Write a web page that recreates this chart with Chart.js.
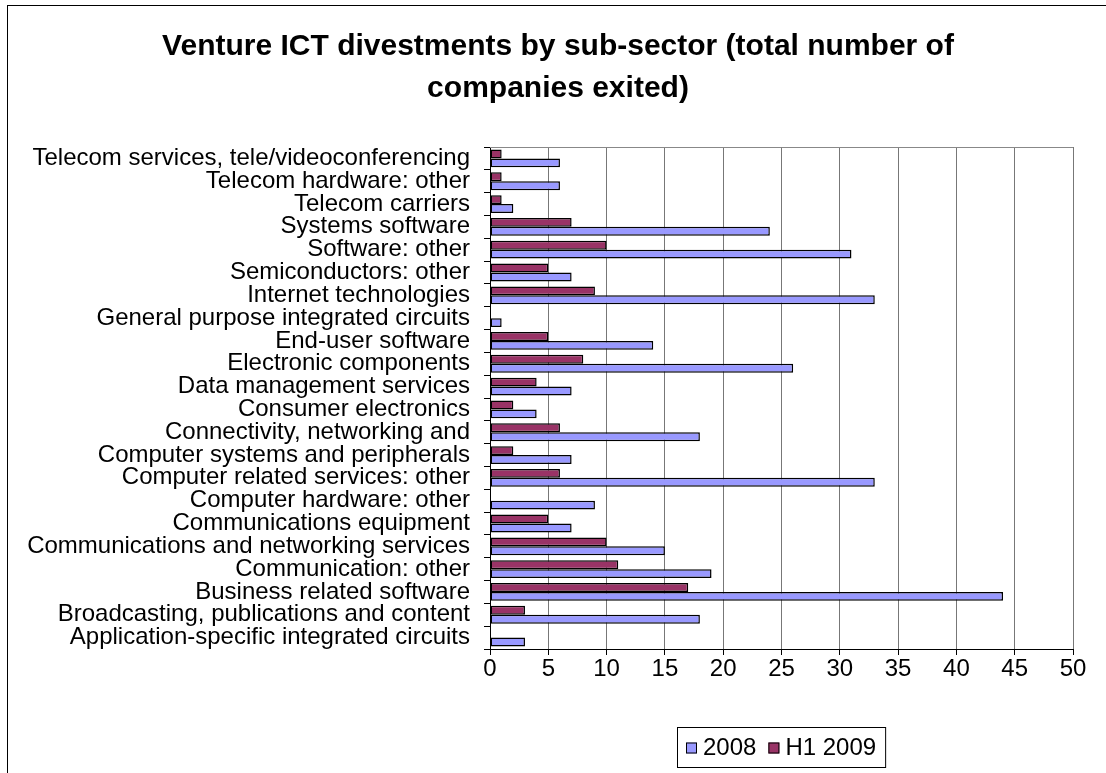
<!DOCTYPE html>
<html lang="en">
<head>
    <meta charset="UTF-8">
    <title>Venture ICT divestments by sub-sector</title>
    <script src="https://cdn.jsdelivr.net/npm/chart.js"></script>
    <style>
        body {
            margin: 0;
            background: #fff;
        }
        .chart-container {
            width: 1106px;
            height: 773px;
        }
    </style>
</head>
<body>

    <div class="chart-container">
        <canvas id="divestChart"></canvas>
    </div>

    <script>
        // Categories, top to bottom as shown
        const sectors = [
            'Telecom services, tele/videoconferencing',
            'Telecom hardware: other',
            'Telecom carriers',
            'Systems software',
            'Software: other',
            'Semiconductors: other',
            'Internet technologies',
            'General purpose integrated circuits',
            'End-user software',
            'Electronic components',
            'Data management services',
            'Consumer electronics',
            'Connectivity, networking and',
            'Computer systems and peripherals',
            'Computer related services: other',
            'Computer hardware: other',
            'Communications equipment',
            'Communications and networking services',
            'Communication: other',
            'Business related software',
            'Broadcasting, publications and content',
            'Application-specific integrated circuits'
        ];
        const values2008 = [6, 6, 2, 24, 31, 7, 33, 1, 14, 26, 7, 4, 18, 7, 33, 9, 7, 15, 19, 44, 18, 3];
        const valuesH12009 = [1, 1, 1, 7, 10, 5, 9, 0, 5, 8, 4, 2, 6, 2, 6, 0, 5, 10, 11, 17, 3, 0];
        const seriesNames = ['2008', 'H1 2009'];
        const axisMax = 50;
        const axisStep = 5;

        const FONT = '"Liberation Sans", Arial, sans-serif';

        // outer chart frame + grey plot border (top)
        const framePlugin = {
            id: 'frame',
            beforeDraw(chart) {
                const ctx = chart.ctx;
                ctx.save();
                ctx.fillStyle = '#fff';
                ctx.fillRect(0, 0, chart.width, chart.height);
                ctx.strokeStyle = '#000';
                ctx.lineWidth = 1;
                ctx.strokeRect(7.5, 5.5, chart.width + 20, chart.height + 20);
                ctx.restore();
            },
            afterDatasetsDraw(chart) {
                const a = chart.chartArea;
                const ctx = chart.ctx;
                ctx.save();
                ctx.strokeStyle = '#888';
                ctx.lineWidth = 1;
                ctx.beginPath();
                ctx.moveTo(a.left, Math.round(a.top) + 0.5);
                ctx.lineTo(a.right, Math.round(a.top) + 0.5);
                ctx.stroke();
                ctx.restore();
            }
        };

        // Excel-style boxed legend centred under the plot area
        const boxLegend = {
            id: 'boxLegend',
            afterDraw(chart) {
                const ctx = chart.ctx;
                const a = chart.chartArea;
                const items = chart.data.datasets.slice().reverse();
                ctx.save();
                ctx.font = '24px ' + FONT;
                const sw = 11, gap = 6, itemGap = 12, padX = 9;
                let total = padX * 2;
                items.forEach((d, i) => {
                    total += sw + gap + ctx.measureText(d.label).width;
                    if (i < items.length - 1) total += itemGap;
                });
                const cx = (a.left + a.right) / 2;
                const top = 727, h = 40;
                const left = Math.round(cx - total / 2);
                ctx.fillStyle = '#fff';
                ctx.fillRect(left, top, total, h);
                ctx.strokeStyle = '#000';
                ctx.lineWidth = 1;
                ctx.strokeRect(left + 0.5, top + 0.5, total, h);
                let x = left + padX;
                const cy = top + h / 2;
                ctx.textBaseline = 'middle';
                items.forEach(d => {
                    ctx.fillStyle = d.backgroundColor;
                    ctx.fillRect(x, cy - sw / 2 + 1, sw, sw);
                    ctx.strokeStyle = '#000';
                    ctx.strokeRect(x + 0.5, cy - sw / 2 + 1.5, sw - 1, sw - 1);
                    x += sw + gap;
                    ctx.fillStyle = '#000';
                    ctx.fillText(d.label, x, cy + 1);
                    x += ctx.measureText(d.label).width + itemGap;
                });
                ctx.restore();
            }
        };

        const barStyle = {
            borderColor: '#000',
            borderWidth: 1.5,
            borderSkipped: false,
            categoryPercentage: 0.78,
            barPercentage: 1.0
        };

        new Chart(document.getElementById('divestChart'), {
            type: 'bar',
            data: {
                labels: sectors,
                datasets: [
                    Object.assign({ label: seriesNames[1], data: valuesH12009, backgroundColor: '#993366' }, barStyle),
                    Object.assign({ label: seriesNames[0], data: values2008, backgroundColor: '#9999FF' }, barStyle)
                ]
            },
            options: {
                indexAxis: 'y',
                responsive: true,
                maintainAspectRatio: false,
                animation: false,
                layout: {
                    padding: { left: 26, right: 16, top: 0, bottom: 92 }
                },
                plugins: {
                    legend: { display: false },
                    tooltip: { enabled: false },
                    title: {
                        display: true,
                        text: ['Venture ICT divestments by sub-sector (total number of', 'companies exited)'],
                        color: '#000',
                        font: { family: FONT, size: 30, weight: 'bold', lineHeight: 1.4 },
                        padding: { top: 26, bottom: 37 }
                    }
                },
                scales: {
                    x: {
                        min: 0,
                        max: axisMax,
                        ticks: {
                            stepSize: axisStep,
                            color: '#000',
                            font: { family: FONT, size: 24 },
                            padding: 0
                        },
                        grid: { color: '#777', tickColor: '#000', tickLength: 6 },
                        border: { color: '#000' },
                        afterFit: s => { s.height = 32; }
                    },
                    y: {
                        ticks: {
                            color: '#000',
                            font: { family: FONT, size: 24 },
                            padding: 14,
                            autoSkip: false
                        },
                        grid: { drawOnChartArea: false, color: '#000', tickLength: 6 },
                        border: { color: '#000' },
                        afterFit: s => { s.width = 464; }
                    },
                    // empty right-hand spacer so the title centres over the whole frame
                    yRight: {
                        type: 'linear',
                        position: 'right',
                        ticks: { display: false },
                        grid: { display: false },
                        border: { display: false },
                        afterFit: s => { s.width = 17; }
                    }
                }
            },
            plugins: [framePlugin, boxLegend]
        });
    </script>
</body>
</html>
